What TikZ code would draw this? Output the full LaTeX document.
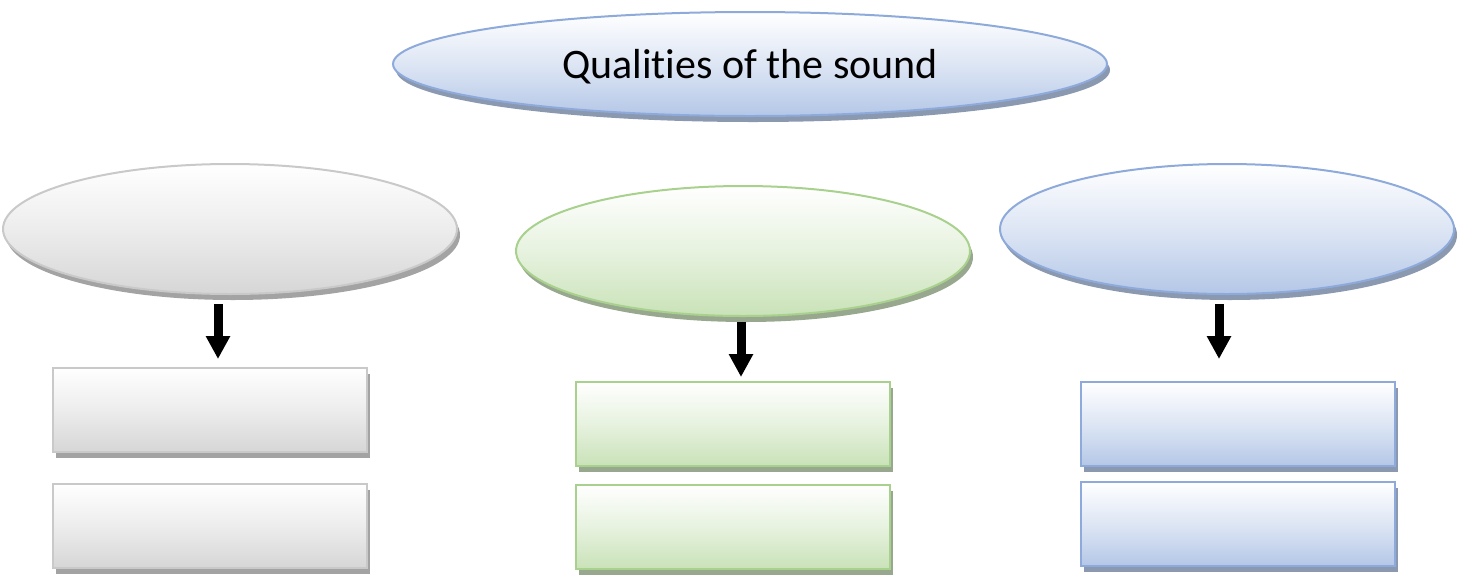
\documentclass[tikz,border=0pt]{standalone}
\usepackage{fontspec}
\setmainfont{Carlito}[Ligatures={NoCommon,NoRare},RawFeature={-liga}]
\usetikzlibrary{shapes.geometric,shadows,arrows.meta}
\definecolor{grayline}{HTML}{C9C9C9}
\definecolor{grayfill}{HTML}{D6D6D6}
\definecolor{grayshadow}{HTML}{A3A3A3}
\definecolor{greenline}{HTML}{A9D18E}
\definecolor{greenfill}{HTML}{C9E2B8}
\definecolor{greenshadow}{HTML}{98A88E}
\definecolor{blueline}{HTML}{8EAADB}
\definecolor{bluefill}{HTML}{B4C7E7}
\definecolor{blueshadow}{HTML}{8A98B0}
\tikzset{
  shp/.style={inner sep=0pt, line width=2pt, draw=#1line, top color=white, bottom color=#1fill, middle color=#1fill!45!white,
    drop shadow={shadow xshift=3pt, shadow yshift=-6pt, opacity=1, fill=#1shadow}},
  oval/.style={shp=#1, ellipse, minimum width=454pt, minimum height=130pt},
  bar/.style={shp=#1, rectangle, minimum width=314pt, minimum height=84pt},
  dnarrow/.style={line width=9pt, -{Triangle[width=23pt,length=23pt]}}
}
\begin{document}
\begin{tikzpicture}[x=1pt,y=-1pt]
\useasboundingbox (0,0) rectangle (1463,574);
\node[shp=blue, ellipse, minimum width=714pt, minimum height=104pt] (title) at (750,64) {};
\node[font=\fontsize{42}{46}\selectfont, inner sep=0pt] (titletext) at (750,67) {Qualities of the sound};
\node[oval=gray] (o1) at (230,229) {};
\node[oval=green] (o2) at (743,251) {};
\node[oval=blue] (o3) at (1227,229) {};
\node[bar=gray] (a1) at (210,410) {};
\node[bar=gray] (a2) at (210,526) {};
\node[bar=green] (b1) at (733,424) {};
\node[bar=green] (b2) at (733,527) {};
\node[bar=blue] (c1) at (1238,424) {};
\node[bar=blue] (c2) at (1238,524) {};
\coordinate (t1) at (218,359);
\coordinate (t2) at (741,377);
\coordinate (t3) at (1219,359);
\draw[dnarrow] (o1.south -| t1) ++(0,9) -- (t1);
\draw[dnarrow] (o2.south -| t2) ++(0,5) -- (t2);
\draw[dnarrow] (o3.south -| t3) ++(0,9) -- (t3);
\end{tikzpicture}
\end{document}
